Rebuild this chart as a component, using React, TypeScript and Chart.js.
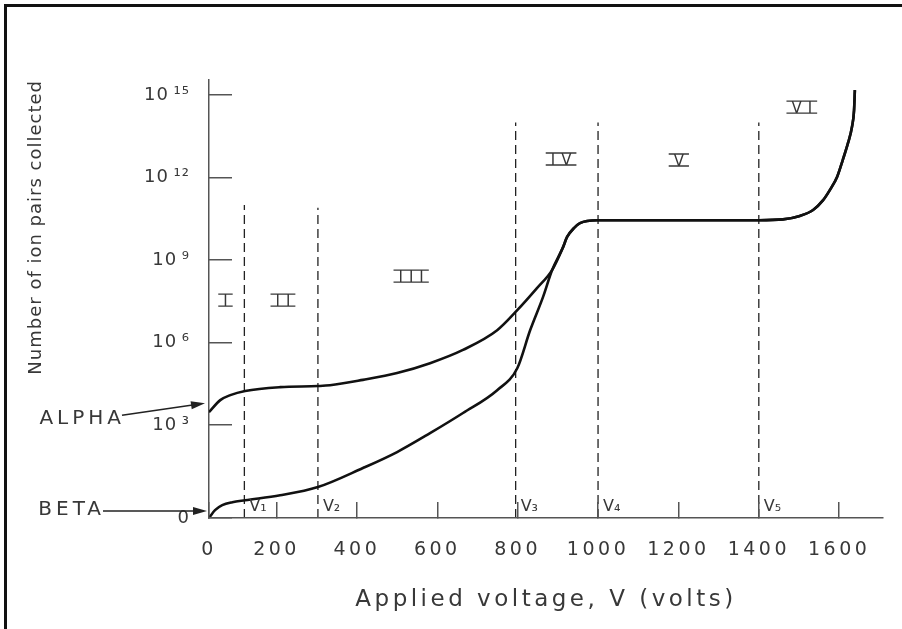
import { useEffect, useRef } from 'react';
import { Chart, registerables } from 'chart.js';

Chart.register(...registerables);

// Axis extent (voltage at the drawn origin, which carries the "0" label)
const X_AXIS_START = 32;
const X_AXIS_END = 1709;
const Y_AXIS_MIN = 0.42;
const Y_AXIS_MAX = 3.5e15;

const xTickValues = [32, 200, 400, 600, 800, 1000, 1200, 1400, 1600];
const xTickLabels = ['0', '200', '400', '600', '800', '1000', '1200', '1400', '1600'];
const yTickValues = [0.42, 1e3, 1e6, 1e9, 1e12, 1e15];
const yTickLabels = ['0', '10\u2009³', '10\u2009⁶', '10\u2009⁹', '10\u2009¹²', '10\u2009¹⁵'];

// Lower part of the alpha curve
const alphaVoltage = [32, 60, 85, 122, 209, 303, 333, 415, 500, 582, 664, 749, 799, 848, 886];
const alphaPairs = [2.95e3, 8.1e3, 1.23e4, 1.74e4, 2.4e4, 2.63e4, 2.8e4, 4.4e4, 7.8e4, 1.78e5, 5.4e5, 2.8e6, 1.5e7, 9.5e7, 4.4e8];

// Lower part of the beta curve
const betaVoltage = [32, 47, 65, 90, 122, 209, 303, 415, 500, 582, 664, 749, 799, 831, 863, 886];
const betaPairs = [0.42, 0.81, 1.23, 1.58, 1.86, 2.8, 5.6, 27.5, 105, 510, 2750, 1.86e4, 1.17e5, 2.8e6, 4.5e7, 4.4e8];

// Common upper part (both curves merge)
const sharedVoltage = [913, 923, 940, 955, 998, 1204, 1400, 1460, 1502, 1535, 1560, 1577, 1595, 1609, 1622, 1632, 1637, 1639];
const sharedPairs = [2.95e9, 6.9e9, 1.45e10, 2.2e10, 2.8e10, 2.8e10, 2.8e10, 3.0e10, 4.0e10, 6.6e10, 1.5e11, 3.55e11, 1.07e12, 4.4e12, 1.8e13, 7.1e13, 2.8e14, 1.5e15];

// Region boundaries V1..V5
const boundaryVoltage = [120, 303, 795, 1000, 1400];
const boundaryTop = [1e11, 8e10, 1e14, 1e14, 1e14];
const boundaryLabels = ['V₁', 'V₂', 'V₃', 'V₄', 'V₅'];

// Region numerals
const regionLabels = ['I', 'II', 'III', 'IV', 'V', 'VI'];
const regionVoltage = [73, 216, 535, 908, 1201, 1507];
const regionPairs = [3.5e7, 3.5e7, 2.6e8, 4.7e12, 4.3e12, 3.6e14];

const TEXT = '#383838';
const AXIS = '#555';

function toPoints(xs: number[], ys: number[]) {
  return xs.map((x, i) => ({ x, y: ys[i] }));
}

function arrow(ctx: CanvasRenderingContext2D, x1: number, y1: number, x2: number, y2: number) {
  const a = Math.atan2(y2 - y1, x2 - x1);
  const c = Math.cos(a);
  const s = Math.sin(a);
  ctx.beginPath();
  ctx.moveTo(x1, y1);
  ctx.lineTo(x2 - 9 * c, y2 - 9 * s);
  ctx.stroke();
  ctx.beginPath();
  ctx.moveTo(x2, y2);
  ctx.lineTo(x2 - 14 * c + 4 * s, y2 - 14 * s - 4 * c);
  ctx.lineTo(x2 - 14 * c - 4 * s, y2 - 14 * s + 4 * c);
  ctx.closePath();
  ctx.fill();
}

const annotate = {
  id: 'annotate',
  beforeDraw(chart: any) {
    chart.ctx.letterSpacing = '1px';
  },
  afterDatasetsDraw(chart: any) {
    const ctx: CanvasRenderingContext2D = chart.ctx;
    const xs = chart.scales.x;
    const ys = chart.scales.y;
    ctx.save();
    ctx.fillStyle = TEXT;
    ctx.strokeStyle = TEXT;

    // Roman numerals with bars
    const sp = 6;
    ctx.letterSpacing = sp + 'px';
    ctx.font = '15px "DejaVu Sans"';
    ctx.textAlign = 'center';
    ctx.textBaseline = 'alphabetic';
    ctx.lineWidth = 1.4;
    regionLabels.forEach((t, i) => {
      const cx = xs.getPixelForValue(regionVoltage[i]);
      const cy = ys.getPixelForValue(regionPairs[i]);
      const w = ctx.measureText(t).width - sp;
      ctx.fillText(t, cx + sp / 2, cy + 5.5);
      const half = w / 2 + 5;
      ctx.beginPath();
      ctx.moveTo(cx - half, cy - 6);
      ctx.lineTo(cx + half, cy - 6);
      ctx.moveTo(cx - half, cy + 6);
      ctx.lineTo(cx + half, cy + 6);
      ctx.stroke();
    });

    // Boundary labels
    ctx.letterSpacing = '0px';
    ctx.font = '16px "DejaVu Sans"';
    ctx.textAlign = 'left';
    ctx.textBaseline = 'middle';
    boundaryLabels.forEach((t, i) => {
      const x = xs.getPixelForValue(boundaryVoltage[i]);
      ctx.fillText(t, x + 5, ys.bottom - 11);
    });

    // ALPHA / BETA pointers
    ctx.strokeStyle = '#222';
    ctx.fillStyle = '#222';
    ctx.lineWidth = 1.6;
    const ax = xs.getPixelForValue(alphaVoltage[0]);
    const ay = ys.getPixelForValue(alphaPairs[0]);
    arrow(ctx, ax - 87, ay + 3, ax - 4, ay - 9);
    const bx = xs.getPixelForValue(betaVoltage[0]);
    const by = ys.getPixelForValue(betaPairs[0]);
    arrow(ctx, bx - 106, by - 7, bx - 2, by - 7);

    ctx.fillStyle = TEXT;
    ctx.font = '20px "DejaVu Sans"';
    ctx.letterSpacing = '4px';
    ctx.textAlign = 'right';
    ctx.fillText('ALPHA', ax - 88 + 4, ay + 7);
    ctx.fillText('BETA', bx - 108 + 4, by - 8);
    ctx.restore();

    // spacing for the x-axis layers drawn after this hook
    ctx.letterSpacing = '3.5px';
  },
  afterDraw(chart: any) {
    chart.ctx.letterSpacing = '0px';
  },
};

export default function App() {
  const ref = useRef<HTMLCanvasElement>(null);

  useEffect(() => {
    const canvas = ref.current;
    if (!canvas) return;
    Chart.defaults.font.family = '"DejaVu Sans"';
    Chart.defaults.color = TEXT;

    const curveStyle = {
      borderColor: '#111',
      borderWidth: 2.6,
      pointRadius: 0,
      fill: false,
      cubicInterpolationMode: 'monotone' as const,
    };

    const boundarySets = boundaryVoltage.map((v, i) => ({
      label: boundaryLabels[i],
      data: [
        { x: v, y: Y_AXIS_MIN },
        { x: v, y: boundaryTop[i] },
      ],
      borderColor: '#222',
      borderWidth: 1.3,
      borderDash: [9, 5],
      pointRadius: 0,
      tension: 0,
    }));

    const chart = new Chart(canvas, {
      type: 'line',
      data: {
        datasets: [
          {
            label: 'Alpha',
            data: toPoints(alphaVoltage.concat(sharedVoltage), alphaPairs.concat(sharedPairs)),
            ...curveStyle,
          },
          {
            label: 'Beta',
            data: toPoints(betaVoltage.concat(sharedVoltage), betaPairs.concat(sharedPairs)),
            ...curveStyle,
          },
          ...boundarySets,
        ],
      },
      options: {
        animation: false,
        responsive: false,
        maintainAspectRatio: false,
        parsing: false as any,
        layout: { padding: { top: 80, right: 19, left: 0, bottom: 0 } },
        plugins: { legend: { display: false }, tooltip: { enabled: false } },
        scales: {
          x: {
            type: 'linear',
            position: 'bottom',
            min: X_AXIS_START,
            max: X_AXIS_END,
            afterFit: (s: any) => {
              s.height = 111;
            },
            afterBuildTicks: (s: any) => {
              s.ticks = xTickValues.map((v) => ({ value: v }));
            },
            ticks: {
              autoSkip: false,
              maxRotation: 0,
              padding: 37,
              font: { size: 19 },
              color: TEXT,
              z: 1,
              callback: (_v: any, i: number) => xTickLabels[i],
            },
            grid: {
              display: true,
              drawOnChartArea: false,
              drawTicks: true,
              tickLength: -16,
              color: AXIS,
              lineWidth: 1.5,
              z: 1,
            },
            border: { display: true, color: AXIS, width: 1.5, z: 1 },
            title: {
              display: true,
              text: 'Applied voltage, V (volts)',
              font: { size: 23 },
              color: TEXT,
              padding: { top: 0, bottom: 15 },
            },
          },
          y: {
            type: 'logarithmic',
            position: 'left',
            min: Y_AXIS_MIN,
            max: Y_AXIS_MAX,
            afterFit: (s: any) => {
              s.width = 209;
            },
            afterBuildTicks: (s: any) => {
              s.ticks = yTickValues.map((v) => ({ value: v }));
            },
            ticks: {
              autoSkip: false,
              padding: 42,
              font: { size: 18 },
              color: TEXT,
              callback: (_v: any, i: number) => yTickLabels[i],
            },
            grid: {
              display: true,
              drawOnChartArea: false,
              drawTicks: true,
              tickLength: -23,
              color: AXIS,
              lineWidth: 1.5,
            },
            border: { display: true, color: AXIS, width: 1.5 },
            title: {
              display: true,
              text: 'Number of ion pairs collected',
              align: 'end',
              font: { size: 18 },
              color: TEXT,
              padding: { top: 26, bottom: 0 },
            },
          },
        },
      },
      plugins: [annotate],
    });

    return () => chart.destroy();
  }, []);

  return (
    <>
      <canvas
        ref={ref}
        width={902}
        height={629}
        style={{ position: 'fixed', left: 0, top: 0, width: 902, height: 629, background: '#fff' }}
      />
      <div
        style={{
          position: 'fixed',
          left: 4,
          top: 4,
          width: 898,
          height: 625,
          borderTop: '3px solid #111',
          borderLeft: '3px solid #111',
          boxSizing: 'border-box',
          pointerEvents: 'none',
        }}
      />
    </>
  );
}
